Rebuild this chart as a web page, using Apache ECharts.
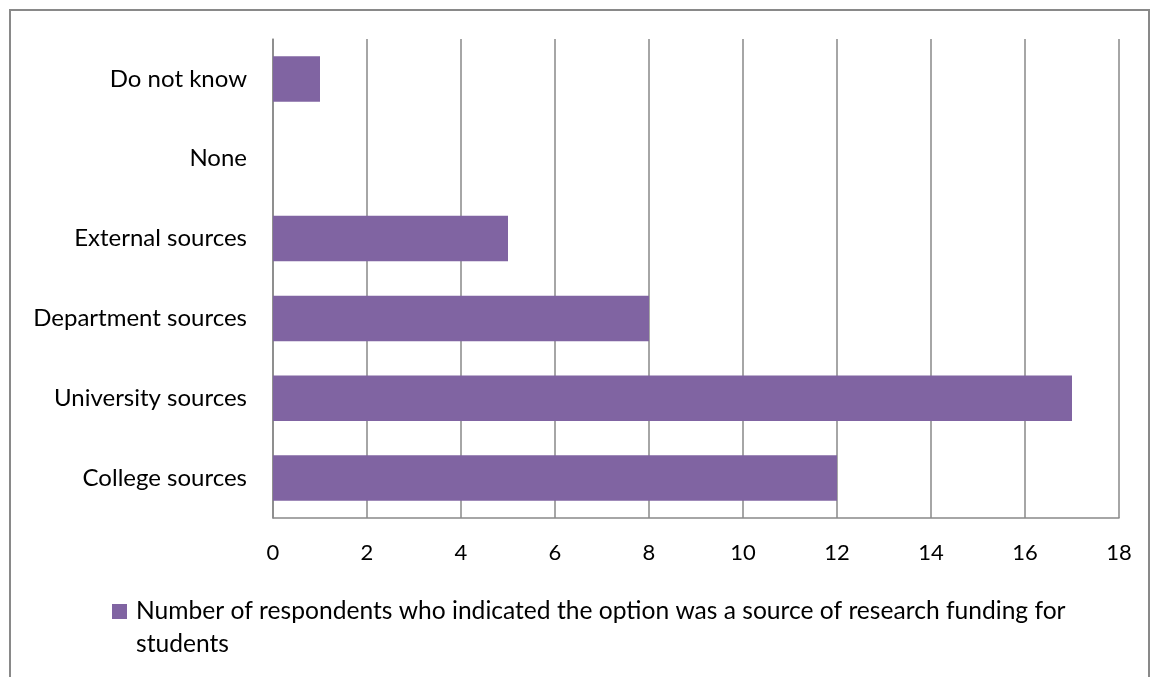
<!DOCTYPE html>
<html>
<head>
<meta charset="utf-8">
<script src="https://cdn.jsdelivr.net/npm/echarts@6/dist/echarts.min.js"></script>
<style>
  html, body { margin: 0; padding: 0; background: #fff; }
  #chart { width: 1151px; height: 677px; }
</style>
</head>
<body>
<div id="chart"></div>
<script>
// funding sources, bottom to top as drawn
const categories = ["College sources", "University sources", "Department sources", "External sources", "None", "Do not know"]
const respondents = [12, 17, 8, 5, 0, 1]
const seriesName = "Number of respondents who indicated the option was a source of research funding for students"
const xTicks = { min: 0, max: 18, interval: 2 }

const FONT = "Lato"
const chart = echarts.init(document.getElementById("chart"))

// square marker sitting at the top of a taller box, so it lines up with the first text line
const legendIcon = "path://M0,0L15,0L15,15L0,15ZM0,48L0,48"

const option = {
  animation: false,
  textStyle: { fontFamily: FONT },
  // outer chart frame
  graphic: [{
    type: "rect",
    shape: { x: 10, y: 10, width: 1139, height: 700 },
    style: { fill: "none", stroke: "#898989", lineWidth: 2 },
    silent: true
  }],
  grid: { left: 273, right: 32, top: 39, bottom: 159 },
  legend: {
    left: 112,
    top: 595,
    padding: 0,
    itemWidth: 15,
    itemHeight: 48,
    itemGap: 0,
    icon: legendIcon,
    textStyle: {
      fontFamily: FONT,
      fontSize: 24.6,
      color: "#000",
      width: 960,
      overflow: "break",
      lineHeight: 33,
      padding: [0, 0, 0, 4]
    },
    data: [seriesName]
  },
  xAxis: {
    type: "value",
    min: xTicks.min,
    max: xTicks.max,
    interval: xTicks.interval,
    axisLine: { show: true, lineStyle: { color: "#898989", width: 1.5 } },
    axisTick: { show: false },
    axisLabel: { color: "#000", fontSize: 22, fontFamily: FONT, margin: 24 },
    splitLine: { show: true, lineStyle: { color: "#898989", width: 1.5 } }
  },
  yAxis: {
    type: "category",
    data: categories,
    axisLine: { show: true, lineStyle: { color: "#898989", width: 1.5 } },
    axisTick: { show: false },
    axisLabel: { color: "#000", fontSize: 24, fontFamily: FONT, margin: 26 }
  },
  series: [{
    name: seriesName,
    type: "bar",
    data: respondents,
    barCategoryGap: "43%",
    itemStyle: { color: "#8064A2" }
  }]
}

chart.setOption(option)
</script>
</body>
</html>
